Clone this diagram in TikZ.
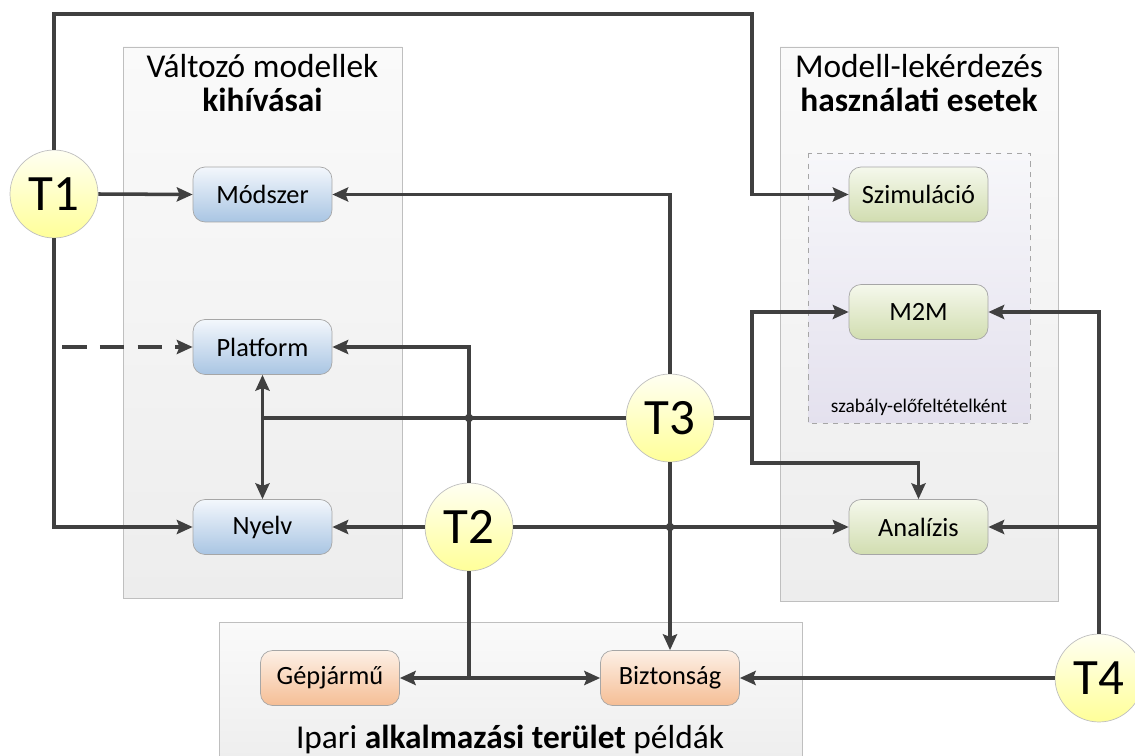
\documentclass[tikz,border=0pt]{standalone}
\usepackage{fontspec}
\setmainfont{Carlito}
\usepackage{tikz}
\usetikzlibrary{arrows.meta, positioning}

\definecolor{linegray}{HTML}{404040}
\definecolor{panelborder}{HTML}{BFBFBF}
\definecolor{paneltop}{HTML}{FAFAFA}
\definecolor{panelbottom}{HTML}{EDEDED}
\definecolor{itemborder}{HTML}{A6A6A6}
\definecolor{bluetop}{HTML}{F3F7FC}
\definecolor{bluebottom}{HTML}{A9C5E3}
\definecolor{greentop}{HTML}{F5F8EC}
\definecolor{greenbottom}{HTML}{D1DDB0}
\definecolor{orangetop}{HTML}{FDF0E6}
\definecolor{orangebottom}{HTML}{F5BE95}
\definecolor{yellowtop}{HTML}{FFFFF2}
\definecolor{yellowbottom}{HTML}{FFFF99}
\definecolor{innertop}{HTML}{F7F7FA}
\definecolor{innerbottom}{HTML}{E4E1EE}

\begin{document}
\begin{tikzpicture}[
    x=0.02cm, y=-0.02cm,
    panel/.style={draw=panelborder, top color=paneltop, bottom color=panelbottom},
    innerpanel/.style={draw=itemborder, dashed, top color=innertop, bottom color=innerbottom},
    itembox/.style={rectangle, rounded corners=0.24cm, draw=itemborder, minimum width=2.78cm, minimum height=1.1cm, align=center, font=\fontsize{15}{17}\selectfont},
    challenge/.style={itembox, top color=bluetop, bottom color=bluebottom},
    usecase/.style={itembox, top color=greentop, bottom color=greenbottom},
    domainbox/.style={itembox, top color=orangetop, bottom color=orangebottom},
    topic/.style={circle, draw=panelborder, top color=yellowtop, bottom color=yellowbottom, minimum size=1.76cm, inner sep=0pt, font=\fontsize{29}{31}\selectfont},
    paneltitle/.style={align=center, inner sep=0pt, font=\fontsize{19}{19.5}\selectfont},
    arrow/.style={-{Stealth[length=9pt, width=8pt, inset=1.5pt]}, line width=2pt, draw=linegray},
]
\useasboundingbox (0,0) rectangle (1135,756);

% panels
\path[panel] (123,47) rectangle (402,598);
\path[panel] (780,47) rectangle (1058,601);
\path[panel] (219,622) rectangle (802,770);
\path[innerpanel] (808,153) rectangle (1030,423);

\node[paneltitle, anchor=base] (lefttitle) at (262.5,112) {Változó modellek\\\textbf{kihívásai}};
\node[paneltitle, anchor=base] (righttitle) at (919,112) {Modell-lekérdezés\\\textbf{használati esetek}};
\node[paneltitle, anchor=base] (bottomtitle) at (510,748) {Ipari \textbf{alkalmazási terület} példák};
\node[font=\fontsize{11}{13}\selectfont] (precond) at (919,407) {szabály-előfeltételként};

\node[challenge] (modszer) at (262.5,194.5) {Módszer};
\node[challenge] (platform) at (262.5,347) {Platform};
\node[challenge] (nyelv) at (262.5,527) {Nyelv};

\node[usecase] (szim) at (918.5,194.5) {Szimuláció};
\node[usecase] (m2m) at (918.5,312) {M2M};
\node[usecase] (analizis) at (918.5,527) {Analízis};

\node[domainbox] (gepj) at (330,678) {Gépjármű};
\node[domainbox] (bizt) at (670,678) {Biztonság};

\node[topic] (t1) at (54,194) {T1};
\node[topic] (t2) at (469,527) {T2};
\node[topic] (t3) at (670,418) {T3};
\node[topic] (t4) at (1099,678) {T4};

\coordinate (tr) at (752,14);
\coordinate (t3e) at (752,418);
\coordinate (t3a) at (752,463);
\coordinate (dashstart) at (62,347);
\coordinate (t2s) at (t2 |- gepj);
\coordinate (pn) at (platform |- t3);

% T1
\draw[arrow] (t1.north) |- (tr) |- (szim.west);
\draw[arrow] (t1.east) -- (modszer.west);
\draw[arrow] (t1.south) |- (nyelv.west);
\draw[arrow, dash pattern=on 14pt off 7.5pt] (dashstart) -- (platform.west);

% T2
\draw[arrow] (t2.north) |- (platform.east);
\draw[arrow] (t2.west) -- (nyelv.east);
\draw[arrow] (t2.east) -- (analizis.west);
\draw[arrow] (t2.south) -- (t2s) -- (gepj.east);
\draw[arrow] (t2s) -- (bizt.west);

% T3
\draw[arrow] (t3.north) |- (modszer.east);
\draw[arrow] (t3.south) -- (bizt.north);
\draw[arrow] (t3.west) -- (pn) -- (platform.south);
\draw[arrow] (pn) -- (nyelv.north);
\draw[arrow] (t3.east) -- (t3e) |- (m2m.west);
\draw[arrow] (t3e) -- (t3a) -| (analizis.north);

% T4
\draw[arrow] (t4.west) -- (bizt.east);
\draw[arrow] (t4.north) |- (m2m.east);
\draw[arrow] (t4 |- analizis) -- (analizis.east);

\fill[linegray] (t2 |- t3) circle (2.4pt);
\fill[linegray] (t3 |- t2) circle (2.4pt);

\end{tikzpicture}
\end{document}
